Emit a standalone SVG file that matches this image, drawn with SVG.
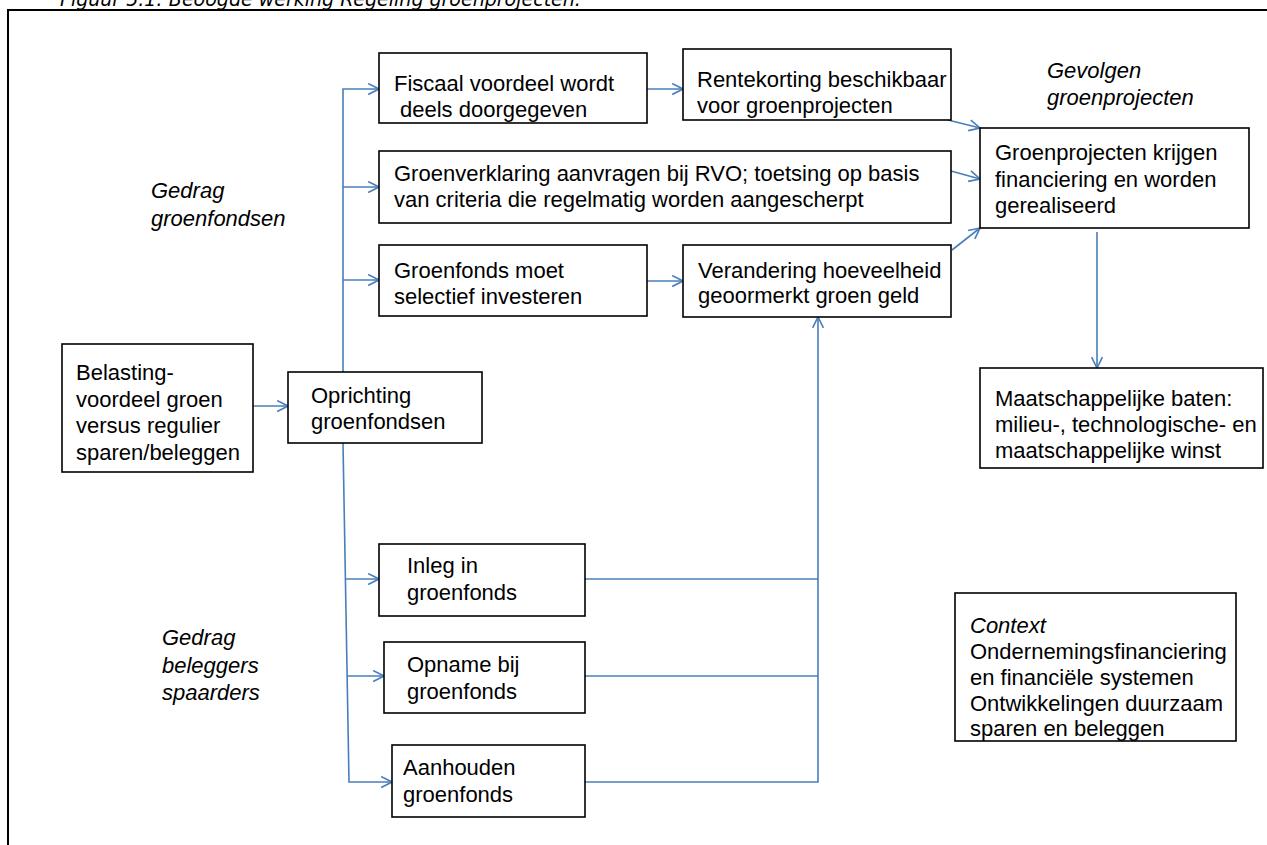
<svg xmlns="http://www.w3.org/2000/svg" width="1267" height="845" viewBox="0 0 1267 845">
<defs>
<style>
.box{fill:#fff;stroke:#000;stroke-width:1.6}
.t{font-family:"Liberation Sans",Arial,sans-serif;font-size:22px;fill:#000}
.i{font-family:"Liberation Sans",Arial,sans-serif;font-size:22px;font-style:italic;fill:#000}
.c{fill:none;stroke:#4A7EBB;stroke-width:1.6}
.title{font-family:"DejaVu Sans",Verdana,sans-serif;font-size:19px;font-style:italic;fill:#000}
</style>
<marker id="arr" viewBox="0 0 12 12" refX="11" refY="6" markerWidth="13" markerHeight="13" markerUnits="userSpaceOnUse" orient="auto">
<path d="M1,1 L11,6 L1,11" fill="none" stroke="#4A7EBB" stroke-width="1.5"/>
</marker>
</defs>
<rect width="1267" height="845" fill="#fff"/>
<text class="title" x="60" y="6">Figuur 5.1: Beoogde werking Regeling groenprojecten.</text>
<rect x="8" y="10" width="1300" height="900" fill="none" stroke="#000" stroke-width="2"/>

<g id="labels">
<text class="i" x="151" y="198">Gedrag</text>
<text class="i" x="151" y="226">groenfondsen</text>
<text class="i" x="162" y="645">Gedrag</text>
<text class="i" x="162" y="673">beleggers</text>
<text class="i" x="162" y="700">spaarders</text>
<text class="i" x="1047" y="78">Gevolgen</text>
<text class="i" x="1047" y="105">groenprojecten</text>
</g>

<g id="connectors">
<line class="c" x1="253" y1="406" x2="288" y2="406" marker-end="url(#arr)"/>
<polyline class="c" points="343,372 343,89 379,89" marker-end="url(#arr)"/>
<line class="c" x1="343" y1="187" x2="379" y2="187" marker-end="url(#arr)"/>
<line class="c" x1="343" y1="280" x2="379" y2="280" marker-end="url(#arr)"/>
<polyline class="c" points="343,443 349,782 392,782" marker-end="url(#arr)"/>
<line class="c" x1="346" y1="579" x2="379" y2="579" marker-end="url(#arr)"/>
<line class="c" x1="347" y1="676" x2="384" y2="676" marker-end="url(#arr)"/>
<polyline class="c" points="585,579 818,579"/>
<polyline class="c" points="585,676 818,676"/>
<polyline class="c" points="585,782 818,782 818,317" marker-end="url(#arr)"/>
<line class="c" x1="647" y1="89" x2="683" y2="89" marker-end="url(#arr)"/>
<line class="c" x1="647" y1="281" x2="683" y2="281" marker-end="url(#arr)"/>
<line class="c" x1="948" y1="120" x2="980" y2="128" marker-end="url(#arr)"/>
<line class="c" x1="951" y1="171" x2="980" y2="179" marker-end="url(#arr)"/>
<line class="c" x1="952" y1="250" x2="980" y2="228" marker-end="url(#arr)"/>
<line class="c" x1="1097" y1="232" x2="1097" y2="368" marker-end="url(#arr)"/>
</g>

<g id="n-belasting">
<rect class="box" x="62" y="344" width="191" height="128"/>
<text class="t" x="76" y="380">Belasting-</text>
<text class="t" x="76" y="407">voordeel groen</text>
<text class="t" x="76" y="433">versus regulier</text>
<text class="t" x="76" y="460">sparen/beleggen</text>
</g>

<g id="n-oprichting">
<rect class="box" x="288" y="372" width="194" height="71"/>
<text class="t" x="311" y="403">Oprichting</text>
<text class="t" x="311" y="429">groenfondsen</text>
</g>

<g id="n-fiscaal">
<rect class="box" x="379" y="53" width="268" height="70"/>
<text class="t" x="394" y="91">Fiscaal voordeel wordt</text>
<text class="t" x="400" y="117">deels doorgegeven</text>
</g>

<g id="n-rentekorting">
<rect class="box" x="683" y="49" width="268" height="71"/>
<text class="t" x="697" y="87">Rentekorting beschikbaar</text>
<text class="t" x="697" y="113">voor groenprojecten</text>
</g>

<g id="n-groenverklaring">
<rect class="box" x="379" y="151" width="572" height="72"/>
<text class="t" x="394" y="181">Groenverklaring aanvragen bij RVO; toetsing op basis</text>
<text class="t" x="394" y="207">van criteria die regelmatig worden aangescherpt</text>
</g>

<g id="n-groenfonds">
<rect class="box" x="379" y="245" width="268" height="71"/>
<text class="t" x="394" y="278">Groenfonds moet</text>
<text class="t" x="394" y="304">selectief investeren</text>
</g>

<g id="n-verandering">
<rect class="box" x="683" y="245" width="268" height="72"/>
<text class="t" x="698" y="278">Verandering hoeveelheid</text>
<text class="t" x="698" y="303">geoormerkt groen geld</text>
</g>

<g id="n-groenprojecten">
<rect class="box" x="980" y="128" width="269" height="100"/>
<text class="t" x="995" y="160">Groenprojecten krijgen</text>
<text class="t" x="995" y="187">financiering en worden</text>
<text class="t" x="995" y="213">gerealiseerd</text>
</g>

<g id="n-maatschappelijk">
<rect class="box" x="980" y="368" width="283" height="100"/>
<text class="t" x="995" y="406">Maatschappelijke baten:</text>
<text class="t" x="995" y="432">milieu-, technologische- en</text>
<text class="t" x="995" y="458">maatschappelijke winst</text>
</g>

<g id="n-context">
<rect class="box" x="955" y="593" width="281" height="148"/>
<text class="i" x="970" y="633">Context</text>
<text class="t" x="970" y="659">Ondernemingsfinanciering</text>
<text class="t" x="970" y="685">en financiële systemen</text>
<text class="t" x="970" y="711">Ontwikkelingen duurzaam</text>
<text class="t" x="970" y="736">sparen en beleggen</text>
</g>

<g id="n-inleg">
<rect class="box" x="379" y="544" width="206" height="72"/>
<text class="t" x="407" y="573">Inleg in</text>
<text class="t" x="407" y="600">groenfonds</text>
</g>

<g id="n-opname">
<rect class="box" x="384" y="642" width="201" height="71"/>
<text class="t" x="407" y="672">Opname bij</text>
<text class="t" x="407" y="699">groenfonds</text>
</g>

<g id="n-aanhouden">
<rect class="box" x="392" y="745" width="193" height="72"/>
<text class="t" x="403" y="775">Aanhouden</text>
<text class="t" x="403" y="802">groenfonds</text>
</g>
</svg>
